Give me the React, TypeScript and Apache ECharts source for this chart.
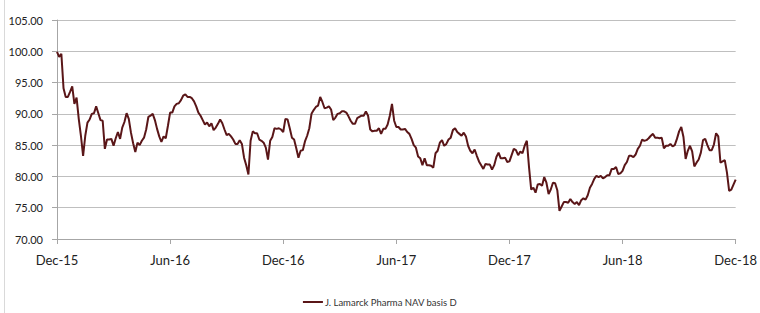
import React, { useEffect, useRef } from "react";
import * as echarts from "echarts";

const seriesName = "J. Lamarck Pharma NAV basis D";
const tickLabels = ["Dec-15", "Jun-16", "Dec-16", "Jun-17", "Dec-17", "Jun-18", "Dec-18"];
const yTicks = [70, 105, 5];

// Half-weekly NAV readings, Dec-15 .. Dec-18 (313 points, 52 per half-year)
const navH1 = [
  99.9, 99.1, 99.6, 94.1, 92.7, 92.7, 93.5, 94.4, 91.6, 92.6,
  89.2, 86.5, 83.3, 86.5, 88.6, 89.1, 90.0, 90.1, 91.2, 90.1,
  89.0, 88.9, 84.4, 85.9, 85.9, 86.0, 84.9, 86.1, 87.1, 86.0,
  87.8, 88.7, 90.1, 89.2, 87.0, 85.3, 83.9, 85.4, 85.0, 85.7,
  86.2, 87.5, 89.5, 89.7, 90.0, 89.0, 87.6, 86.4, 85.5, 86.4,
  86.1, 88.1,
];
const navH2 = [
  90.2, 90.2, 91.2, 91.6, 91.7, 92.2, 92.9, 93.1, 92.7, 92.7,
  92.5, 92.0, 91.2, 90.2, 89.7, 89.0, 88.3, 88.6, 88.0, 88.5,
  87.4, 87.8, 88.4, 89.1, 88.5, 87.5, 86.6, 86.8, 86.4, 85.9,
  85.2, 85.2, 85.8, 85.2, 83.0, 81.8, 80.3, 85.7, 87.2, 86.9,
  86.9, 85.9, 85.7, 85.4, 84.6, 82.7, 85.7, 86.3, 87.7, 87.6,
  87.7, 87.5,
];
const navH3 = [
  87.1, 89.2, 89.1, 87.7, 86.2, 85.9, 84.5, 83.0, 84.1, 84.2,
  85.6, 86.5, 87.7, 90.0, 90.6, 91.1, 91.3, 92.7, 91.9, 90.9,
  91.0, 91.2, 90.7, 89.0, 89.4, 90.0, 90.1, 90.4, 90.4, 90.2,
  89.6, 88.9, 88.4, 88.4, 89.3, 89.5, 89.7, 89.7, 90.4, 89.7,
  87.5, 87.2, 87.3, 87.3, 87.7, 86.8, 87.6, 87.6, 88.3, 89.7,
  91.6, 88.9,
];
const navH4 = [
  87.9, 87.9, 87.5, 87.5, 87.6, 87.1, 86.8, 86.0, 85.0, 84.6,
  83.2, 82.9, 81.8, 82.9, 81.8, 81.8, 81.7, 81.4, 83.7, 84.1,
  85.4, 85.8, 84.9, 85.2, 85.9, 86.2, 87.4, 87.7, 87.1, 86.8,
  86.5, 87.0, 86.4, 84.9, 84.1, 83.7, 84.3, 83.3, 82.4, 81.8,
  81.2, 82.0, 81.9, 81.9, 81.1, 81.8, 83.1, 83.8, 82.9, 82.9,
  83.0, 82.3,
];
const navH5 = [
  82.4, 83.4, 84.4, 84.2, 83.4, 84.0, 83.7, 84.9, 85.7, 81.5,
  77.9, 78.2, 77.4, 78.7, 78.8, 78.5, 79.9, 79.0, 77.2, 77.9,
  79.0, 78.9, 77.8, 74.5, 75.2, 75.9, 75.9, 75.8, 76.4, 75.9,
  75.6, 75.9, 75.4, 76.2, 76.5, 76.3, 77.0, 78.2, 78.8, 79.6,
  80.1, 79.9, 80.1, 79.7, 79.9, 80.2, 80.2, 81.2, 81.2, 81.5,
  80.4, 80.5,
];
const navH6 = [
  80.9, 81.8, 82.3, 83.3, 83.3, 83.1, 83.5, 84.4, 84.9, 85.9,
  85.7, 85.8, 86.1, 86.5, 86.8, 86.2, 86.2, 86.1, 86.2, 84.5,
  84.9, 84.9, 85.2, 84.8, 85.0, 86.0, 87.2, 87.9, 86.3, 82.8,
  84.1, 84.9, 84.0, 81.6, 82.2, 82.7, 83.8, 85.8, 86.0, 85.0,
  84.2, 84.2, 85.1, 86.9, 86.4, 82.2, 82.4, 82.6, 80.6, 77.7,
  77.9, 78.7, 79.5,
];

const navValues = [...navH1, ...navH2, ...navH3, ...navH4, ...navH5, ...navH6];
const pointsPerTick = 52;

export default function App() {
  const ref = useRef<HTMLDivElement>(null);
  useEffect(() => {
    document.body.style.margin = "0";
    if (!ref.current) return;
    const chart = echarts.init(ref.current, undefined, { renderer: "svg" });
    const font = "Lato, 'Open Sans', sans-serif";
    chart.setOption({
      animation: false,
      backgroundColor: "#ffffff",
      grid: { left: 57, right: 22, top: 20, bottom: 74, containLabel: false },
      graphic: [
        {
          type: "line",
          shape: { x1: 4.5, y1: 0, x2: 4.5, y2: 313 },
          style: { stroke: "#d9d9d9", lineWidth: 1 },
          silent: true,
        },
      ],
      legend: {
        data: [{ name: seriesName, icon: "rect" }],
        bottom: 1,
        left: "center",
        itemWidth: 20,
        itemHeight: 2,
        itemGap: 4,
        textStyle: { fontFamily: font, fontSize: 9.5, color: "#333", padding: [0, 0, 0, -3] },
      },
      xAxis: {
        type: "value",
        min: 0,
        max: navValues.length - 1,
        interval: pointsPerTick,
        axisLine: { show: true, lineStyle: { color: "#a6a6a6", width: 1 } },
        axisTick: { show: true, length: 5, lineStyle: { color: "#a6a6a6" } },
        splitLine: { show: false },
        axisLabel: {
          margin: 14,
          fontFamily: font,
          fontSize: 13,
          color: "#222",
          formatter: (v: number) => tickLabels[Math.round(v / pointsPerTick)] ?? "",
        },
      },
      yAxis: {
        type: "value",
        min: yTicks[0],
        max: yTicks[1],
        interval: yTicks[2],
        axisLine: { show: true, lineStyle: { color: "#a6a6a6", width: 1 } },
        axisTick: { show: true, length: 5, lineStyle: { color: "#a6a6a6" } },
        splitLine: { show: true, lineStyle: { color: "#bfbfbf", width: 1 } },
        axisLabel: {
          margin: 14,
          fontFamily: font,
          fontSize: 11,
          color: "#222",
          formatter: (v: number) => v.toFixed(2),
        },
      },
      series: [
        {
          name: seriesName,
          type: "line",
          data: navValues.map((v, i) => [i, v]),
          showSymbol: false,
          symbol: "none",
          lineStyle: { color: "#5a1618", width: 2 },
          itemStyle: { color: "#5a1618" },
        },
      ],
    });
    return () => chart.dispose();
  }, []);
  return <div ref={ref} style={{ width: 760, height: 313 }} />;
}
